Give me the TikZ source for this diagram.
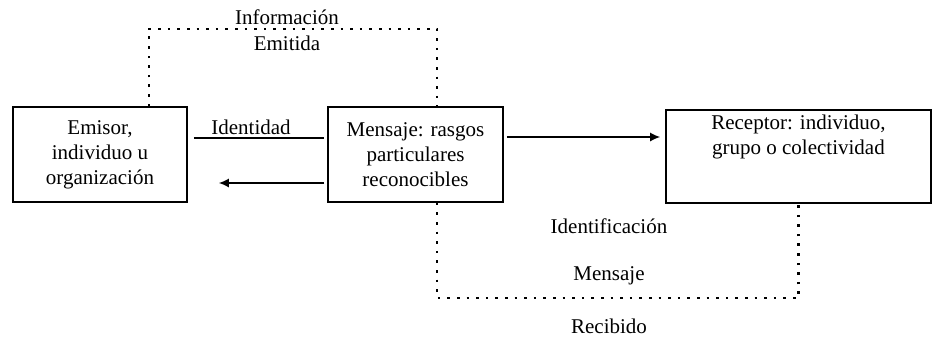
\documentclass[tikz,border=0pt]{standalone}
\usepackage{fontspec}
\setmainfont{Liberation Serif}
\usetikzlibrary{arrows.meta}
\begin{document}
\begin{tikzpicture}[x=1pt,y=-1pt,
  box/.style={draw, line width=1.6pt, align=center, inner sep=0pt, font=\fontsize{21}{25}\selectfont},
  txt/.style={inner sep=0pt, align=center, font=\fontsize{21}{25}\selectfont},
  dots/.style={line width=2.2pt, dash pattern=on 2.6pt off 7pt},
  conn/.style={line width=1.5pt},
  arr/.style={conn, -{Latex[length=10pt,width=9pt]}}]
\useasboundingbox (0,0) rectangle (932,338);
\node[box, minimum width=174pt, minimum height=95pt] (em) at (100,154.5) {Emisor,\\individuo u\\organización};
\node[box, minimum width=175pt, minimum height=95pt] (men) at (415.5,154.5) {Mensaje: rasgos\\particulares\\reconocibles};
\node[box, minimum width=265pt, minimum height=93pt] (rec) at (798.5,156.5) {};
\node[txt, anchor=north] (rect) at ([yshift=-6pt]rec.north) {Receptor: individuo,\\grupo o colectividad};
\coordinate (top) at (300,29);
\coordinate (bot) at (600,298);
\draw[dots] ([xshift=49pt]em.north) |- (top) -| ([xshift=21.5pt]men.north);
\draw[dots] ([xshift=21.5pt]men.south) |- (bot) -| (rec.south);
\draw[conn] ([shift={(6,-16.5)}]em.east) -- ([shift={(-3,-16.5)}]men.west);
\draw[arr] ([shift={(-3,28.5)}]men.west) -- ([shift={(31,28.5)}]em.east);
\draw[arr] ([shift={(3,-17.5)}]men.east) -- ([shift={(-5,-19.5)}]rec.west);
\node[txt] (l1) at (287,17) {Información};
\node[txt] (l2) at (287,43) {Emitida};
\node[txt] (l3) at (251,127) {Identidad};
\node[txt] (l4) at (609,226) {Identificación};
\node[txt] (l5) at (609,276) {Mensaje};
\node[txt] (l6) at (609,326) {Recibido};
\end{tikzpicture}
\end{document}
